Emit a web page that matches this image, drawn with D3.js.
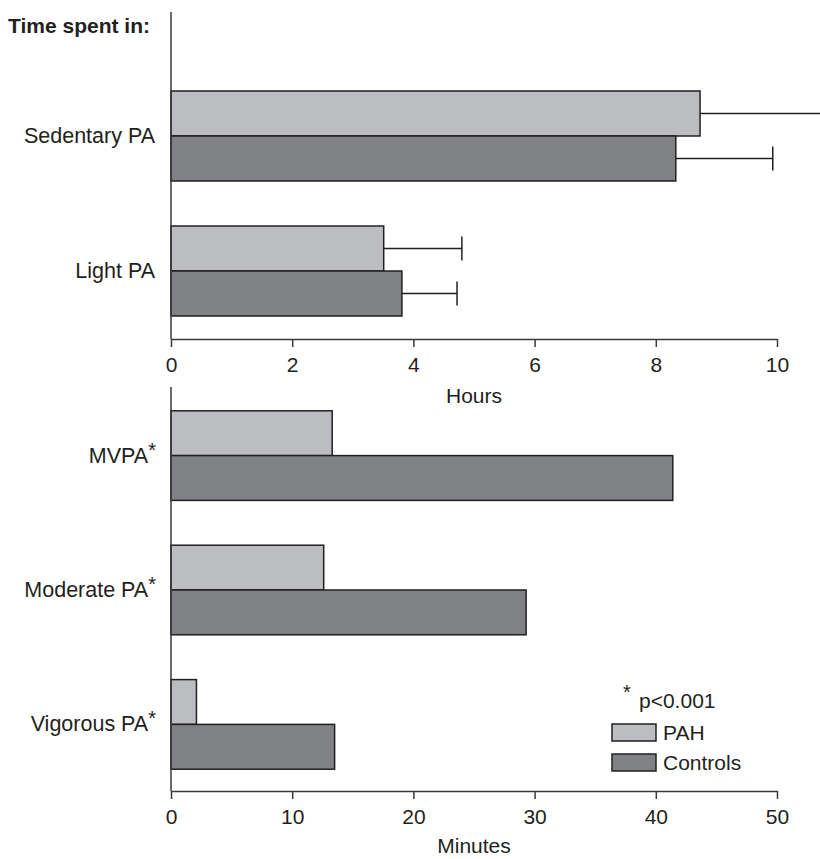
<!DOCTYPE html>
<html>
<head>
<meta charset="utf-8">
<script src="https://cdn.jsdelivr.net/npm/d3@7"></script>
<style>
  html, body { margin: 0; padding: 0; background: #fff; }
  svg text { font-family: "Liberation Sans", Arial, Helvetica, sans-serif; fill: #231f20; }
</style>
</head>
<body>
<svg id="chart" width="820" height="859"></svg>
<script>
// ---------- data ----------
const series = ["PAH", "Controls"];
const seriesColors = ["#bcbdc0", "#808184"];

const hourCategories = ["Sedentary PA", "Light PA"];
const hoursPAH = [8.73, 3.51];
const hoursControls = [8.33, 3.81];
const hoursPAHUpper = [11.2, 4.80];
const hoursControlsUpper = [9.93, 4.72];
const hourTicks = [0, 2, 4, 6, 8, 10];

const minuteCategories = ["MVPA", "Moderate PA", "Vigorous PA"];
const minutesPAH = [13.3, 12.6, 2.1];
const minutesControls = [41.4, 29.3, 13.5];
const minuteTicks = [0, 10, 20, 30, 40, 50];

// ---------- layout ----------
const svg = d3.select("#chart");
const x0 = 171, x1 = 777;
const axisColor = "#3a3a3a";

const xHours = d3.scaleLinear().domain([0, 10]).range([x0, x1]);
const xMin = d3.scaleLinear().domain([0, 50]).range([x0, x1]);

const yTop = d3.scaleBand().domain(hourCategories).range([46, 361]).paddingInner(1/3).paddingOuter(1/3);
const yBot = d3.scaleBand().domain(minuteCategories).range([366, 814]).paddingInner(1/3).paddingOuter(1/3);
const inner = d3.scaleBand().domain(series).range([0, yTop.bandwidth()]);
const innerB = d3.scaleBand().domain(series).range([0, yBot.bandwidth()]);

const topAxisY = 339, botAxisY = 791;

// title
svg.append("text").attr("x", 8).attr("y", 33)
  .style("font-size", "21px").style("font-weight", "bold").text("Time spent in:");

// ---------- top panel ----------
const topRows = hourCategories.map((c, i) => ({
  cat: c,
  vals: [
    {s: "PAH", v: hoursPAH[i], up: hoursPAHUpper[i]},
    {s: "Controls", v: hoursControls[i], up: hoursControlsUpper[i]}
  ]
}));

const gTop = svg.append("g");
topRows.forEach(row => {
  row.vals.forEach((d, j) => {
    const y = yTop(row.cat) + inner(d.s);
    const h = inner.bandwidth();
    gTop.append("line")
      .attr("x1", xHours(d.v)).attr("x2", xHours(d.up))
      .attr("y1", y + h / 2).attr("y2", y + h / 2)
      .attr("stroke", "#231f20").attr("stroke-width", 1.5);
    gTop.append("line")
      .attr("x1", xHours(d.up)).attr("x2", xHours(d.up))
      .attr("y1", y + h / 2 - 12).attr("y2", y + h / 2 + 12)
      .attr("stroke", "#231f20").attr("stroke-width", 1.5);
  });
  row.vals.forEach((d, j) => {
    const y = yTop(row.cat) + inner(d.s);
    gTop.append("rect")
      .attr("x", x0).attr("y", y)
      .attr("width", xHours(d.v) - x0).attr("height", inner.bandwidth())
      .attr("fill", seriesColors[j]).attr("stroke", "#231f20").attr("stroke-width", 1.5);
  });
});

svg.append("line").attr("x1", x0).attr("x2", x0).attr("y1", 12).attr("y2", topAxisY)
  .attr("stroke", axisColor).attr("stroke-width", 1.5);

hourCategories.forEach(c => {
  svg.append("text").attr("x", 155).attr("y", yTop(c) + yTop.bandwidth() / 2)
    .attr("text-anchor", "end").attr("dominant-baseline", "central")
    .style("font-size", "21.5px").text(c);
});

const axTop = svg.append("g").attr("transform", `translate(0,${topAxisY})`)
  .call(d3.axisBottom(xHours).tickValues(hourTicks).tickSize(8).tickSizeOuter(0).tickPadding(10));
axTop.selectAll("path, line").attr("stroke", axisColor).attr("stroke-width", 1.5);
axTop.selectAll("text").style("font-size", "21px").attr("fill", "#231f20");
svg.append("text").attr("x", (x0 + x1) / 2).attr("y", 403).attr("text-anchor", "middle")
  .style("font-size", "21px").text("Hours");

// ---------- bottom panel ----------
const gBot = svg.append("g");
minuteCategories.forEach((c, i) => {
  const vals = [minutesPAH[i], minutesControls[i]];
  series.forEach((s, j) => {
    gBot.append("rect")
      .attr("x", x0).attr("y", yBot(c) + innerB(s))
      .attr("width", xMin(vals[j]) - x0).attr("height", innerB.bandwidth())
      .attr("fill", seriesColors[j]).attr("stroke", "#231f20").attr("stroke-width", 1.5);
  });
});

svg.append("line").attr("x1", x0).attr("x2", x0).attr("y1", 387).attr("y2", botAxisY)
  .attr("stroke", axisColor).attr("stroke-width", 1.5);

minuteCategories.forEach(c => {
  const t = svg.append("text").attr("x", 156).attr("y", yBot(c) + yBot.bandwidth() / 2)
    .attr("text-anchor", "end").attr("dominant-baseline", "central")
    .style("font-size", "21.5px");
  t.append("tspan").text(c);
  t.append("tspan").attr("dy", -6).style("font-size", "20px").text("*");
});

const axBot = svg.append("g").attr("transform", `translate(0,${botAxisY})`)
  .call(d3.axisBottom(xMin).tickValues(minuteTicks).tickSize(8).tickSizeOuter(0).tickPadding(10));
axBot.selectAll("path, line").attr("stroke", axisColor).attr("stroke-width", 1.5);
axBot.selectAll("text").style("font-size", "21px").attr("fill", "#231f20");
svg.append("text").attr("x", (x0 + x1) / 2).attr("y", 853).attr("text-anchor", "middle")
  .style("font-size", "21px").text("Minutes");

// ---------- legend ----------
const lg = svg.append("g");
lg.append("text").attr("x", 623).attr("y", 699).style("font-size", "20px").text("*");
lg.append("text").attr("x", 639).attr("y", 708).style("font-size", "21px").text("p<0.001");
series.forEach((s, j) => {
  const yy = 724 + j * 30;
  lg.append("rect").attr("x", 612).attr("y", yy).attr("width", 44).attr("height", 17)
    .attr("fill", seriesColors[j]).attr("stroke", "#231f20").attr("stroke-width", 1.5);
  lg.append("text").attr("x", 663).attr("y", yy + 8.5).attr("dominant-baseline", "central")
    .style("font-size", "21px").text(s);
});
</script>
</body>
</html>
